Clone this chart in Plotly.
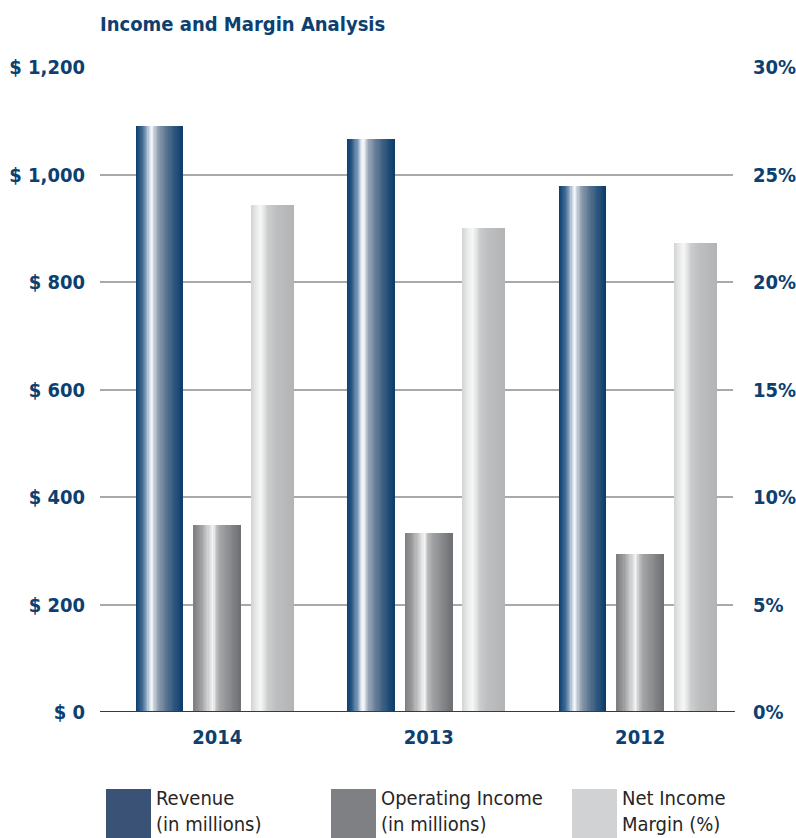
import plotly.graph_objects as go
from plotly.colors import sample_colorscale

# Data
years = ["2014", "2013", "2012"]
revenue = [1090, 1066, 979]            # $ millions
operating_income = [348, 333, 294]     # $ millions
net_margin = [23.6, 22.5, 21.8]        # percent

left_ticks = [0, 200, 400, 600, 800, 1000, 1200]
left_labels = ["$ 0", "$ 200", "$ 400", "$ 600", "$ 800", "$ 1,000", "$ 1,200"]
right_ticks = [0, 5, 10, 15, 20, 25, 30]
right_labels = ["0%", "5%", "10%", "15%", "20%", "25%", "30%"]

NAVY = "#0d3f70"
FONT_B = "Liberation Sans Narrow, DejaVu Sans Condensed, Roboto Condensed, Roboto, sans-serif"

# Cylinder-style shading across each bar (left edge -> right edge)
rev_scale = [
    [0.00, "#0b3d6c"], [0.10, "#2c5a86"], [0.22, "#7e9cba"], [0.30, "#dfe7ef"],
    [0.35, "#f7f9fb"], [0.40, "#c3ccd6"], [0.47, "#93a2b3"], [0.62, "#647b94"],
    [0.80, "#345a80"], [1.00, "#0b3d6a"],
]
op_scale = [
    [0.00, "#7c7d80"], [0.15, "#9a9b9d"], [0.32, "#d2d3d4"], [0.42, "#f7f7f7"],
    [0.48, "#c0c1c2"], [0.58, "#a2a3a5"], [0.80, "#87888b"], [1.00, "#6e6f72"],
]
net_scale = [
    [0.00, "#d2d3d4"], [0.12, "#e6e7e7"], [0.24, "#f6f7f7"], [0.34, "#e2e3e3"],
    [0.42, "#cbcccd"], [0.60, "#bebfc1"], [1.00, "#b3b4b6"],
]

N = 40  # shading strips per bar


def shaded_bar(values, offset, width, scale, yaxis):
    xs, ys, cols = [], [], []
    colors = sample_colorscale(scale, [(k + 0.5) / N for k in range(N)])
    for i, v in enumerate(values):
        for k in range(N):
            xs.append(i + offset - width / 2 + (k + 0.5) * width / N)
            ys.append(v)
            cols.append(colors[k])
    return go.Bar(
        x=xs, y=ys, width=width / N * 1.08, yaxis=yaxis,
        marker=dict(color=cols, line=dict(width=0)),
        showlegend=False, hoverinfo="skip",
    )


fig = go.Figure()
fig.add_trace(shaded_bar(revenue, -0.259, 0.221, rev_scale, "y"))
fig.add_trace(shaded_bar(operating_income, 0.014, 0.221, op_scale, "y"))
fig.add_trace(shaded_bar(net_margin, 0.273, 0.199, net_scale, "y2"))

tick_font = dict(family=FONT_B, size=20, color=NAVY, weight="bold")

fig.update_layout(
    width=796, height=838,
    margin=dict(l=100, r=63, t=67, b=126, autoexpand=False),
    paper_bgcolor="white", plot_bgcolor="white",
    barmode="overlay", bargap=0,
    xaxis=dict(
        range=[-0.541, 2.452], tickvals=[0.013, 1.013, 2.013], ticktext=years,
        showgrid=False, zeroline=False, showline=False, automargin=False,
        ticks="outside", ticklen=7, tickcolor="rgba(0,0,0,0)",
        tickfont=tick_font, fixedrange=True,
    ),
    yaxis=dict(
        range=[0, 1200], tickvals=left_ticks, ticktext=left_labels,
        showgrid=True, gridcolor="#a9a9a9", gridwidth=1.6,
        zeroline=False, showline=False, automargin=False,
        ticks="outside", ticklen=10, tickcolor="rgba(0,0,0,0)",
        tickfont=tick_font, fixedrange=True,
    ),
    yaxis2=dict(
        range=[0, 30], tickvals=right_ticks, ticktext=right_labels,
        overlaying="y", side="right", showgrid=False, zeroline=False,
        automargin=False,
        ticks="outside", ticklen=15, tickcolor="rgba(0,0,0,0)",
        tickfont=tick_font, fixedrange=True,
    ),
    showlegend=False,
)

# Baseline
fig.add_shape(type="line", xref="paper", yref="y", x0=0, x1=1.003, y0=0, y1=0,
              line=dict(color="#3a3a3a", width=2))

# Title
fig.add_annotation(
    text="Income and Margin Analysis", xref="paper", yref="paper",
    x=-0.003, y=1.0, yshift=43, xanchor="left", yanchor="middle", showarrow=False,
    font=dict(family=FONT_B, size=20, color=NAVY, weight="bold"),
)

# Legend swatches and labels (pixel positions converted to paper units)
PLOT_L, PLOT_W, PLOT_B, PLOT_H = 100, 633, 712, 645
legend_items = [
    ("#3a5276", "Revenue<br>(in millions)"),
    ("#7f8084", "Operating Income<br>(in millions)"),
    ("#d1d2d4", "Net Income<br>Margin (%)"),
]
legend_x = [106, 331, 572]
for (color, label), px in zip(legend_items, legend_x):
    fig.add_shape(type="rect", xref="paper", yref="paper",
                  x0=(px - PLOT_L) / PLOT_W, x1=(px + 45 - PLOT_L) / PLOT_W,
                  y0=-(845 - PLOT_B) / PLOT_H, y1=-(789 - PLOT_B) / PLOT_H,
                  fillcolor=color, line=dict(width=0), layer="above")
    fig.add_annotation(
        text=label, xref="paper", yref="paper",
        x=(px + 49 - PLOT_L) / PLOT_W, y=-(785 - PLOT_B) / PLOT_H,
        xanchor="left", yanchor="top", align="left", showarrow=False,
        borderpad=0,
        font=dict(family=FONT_B, size=20, color="#262626"),
    )

fig.write_html("out.html")
